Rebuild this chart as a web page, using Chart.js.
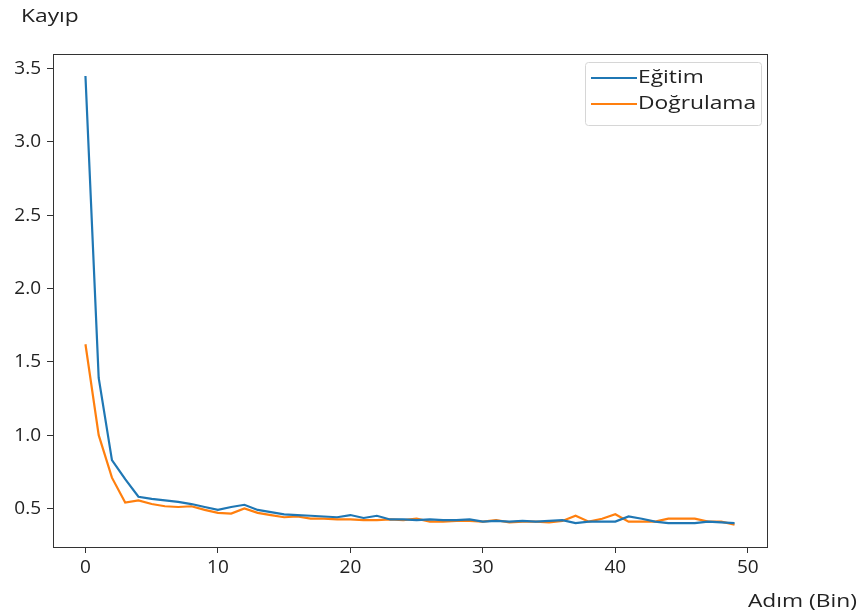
<!DOCTYPE html>
<html>
<head>
<meta charset="utf-8">
<script src="https://cdn.jsdelivr.net/npm/chart.js@4"></script>
<style>
  html, body { margin: 0; padding: 0; background: #fff; }
  #wrap { width: 862px; height: 615px; }
</style>
</head>
<body>
<div id="wrap"><canvas id="lossChart" width="862" height="615"></canvas></div>
<script>
// adım (bin)
var steps = [0,1,2,3,4,5,6,7,8,9,10,11,12,13,14,15,16,17,18,19,20,21,22,23,24,
             25,26,27,28,29,30,31,32,33,34,35,36,37,38,39,40,41,42,43,44,45,46,47,48,49];

var trainLoss = [3.45,1.39,0.83,0.70,0.58,0.565,0.555,0.545,0.53,0.51,
                 0.49,0.51,0.525,0.49,0.475,0.46,0.455,0.45,0.445,0.44,
                 0.455,0.435,0.45,0.425,0.425,0.42,0.425,0.42,0.42,0.425,
                 0.41,0.415,0.41,0.415,0.41,0.415,0.42,0.40,0.41,0.41,
                 0.41,0.445,0.43,0.41,0.40,0.40,0.40,0.41,0.405,0.40];

var valLoss = [1.62,1.00,0.71,0.54,0.555,0.53,0.515,0.51,0.515,0.49,
               0.47,0.465,0.50,0.47,0.455,0.44,0.445,0.43,0.43,0.425,
               0.425,0.42,0.42,0.425,0.42,0.43,0.41,0.41,0.415,0.415,
               0.41,0.42,0.405,0.41,0.41,0.405,0.415,0.45,0.41,0.43,
               0.46,0.41,0.41,0.41,0.43,0.43,0.43,0.41,0.41,0.39];

var seriesNames = ['Eğitim', 'Doğrulama'];
var xTicks = [0, 10, 20, 30, 40, 50];
var yTicks = [0.5, 1.0, 1.5, 2.0, 2.5, 3.0, 3.5];

var FONT = '"Open Sans", "DejaVu Sans", sans-serif';
var AXIS = '#333333';
var TEXT = '#222222';

function toPoints(ys) {
    return steps.map(function (s, i) { return { x: s, y: ys[i] }; });
}

// yazıyı yatayda biraz genişleterek çiz
function wideText(c, txt, x, y, align, sx) {
    c.save();
    c.translate(x, y);
    c.scale(sx, 1);
    c.textAlign = align;
    c.fillText(txt, 0, 0);
    c.restore();
}

// çerçeve, eksen adları ve lejant
var decorPlugin = {
    id: 'decor',
    afterDraw: function (chart) {
        var c = chart.ctx, a = chart.chartArea;
        c.save();
        c.strokeStyle = AXIS;
        c.lineWidth = 1;
        c.strokeRect(Math.round(a.left) + 0.5, Math.round(a.top) + 0.5,
                     Math.round(a.right - a.left), Math.round(a.bottom - a.top));

        c.fillStyle = TEXT;
        c.font = '19px ' + FONT;
        c.textBaseline = 'middle';
        wideText(c, 'Kayıp', 21, 17, 'left', 1.2);
        wideText(c, 'Adım (Bin)', 857, 602, 'right', 1.2);

        // lejant
        var bx = 585, by = 62, bw = 176, bh = 63;
        c.fillStyle = 'rgba(255,255,255,0.85)';
        c.strokeStyle = '#d6d6d6';
        c.beginPath();
        c.roundRect(bx + 0.5, by + 0.5, bw, bh, 3);
        c.fill();
        c.stroke();
        chart.data.datasets.forEach(function (ds, i) {
            var y = by + 16 + i * 26;
            c.strokeStyle = ds.borderColor;
            c.lineWidth = 2;
            c.beginPath();
            c.moveTo(bx + 6, y);
            c.lineTo(bx + 52, y);
            c.stroke();
            c.fillStyle = TEXT;
            wideText(c, ds.label, bx + 53, y, 'left', 1.2);
        });
        c.restore();
    }
};

new Chart(document.getElementById('lossChart').getContext('2d'), {
    type: 'line',
    data: {
        datasets: [{
            label: seriesNames[0],
            data: toPoints(trainLoss),
            borderColor: '#1f77b4',
            borderWidth: 2.2,
            pointRadius: 0,
            tension: 0,
            fill: false
        }, {
            label: seriesNames[1],
            data: toPoints(valLoss),
            borderColor: '#ff7f0e',
            borderWidth: 2.2,
            pointRadius: 0,
            tension: 0,
            fill: false
        }]
    },
    options: {
        responsive: false,
        animation: false,
        layout: { padding: { top: 54, right: 95, left: 0, bottom: 0 } },
        plugins: {
            legend: { display: false },
            tooltip: { enabled: false }
        },
        scales: {
            x: {
                type: 'linear',
                min: -2.45,
                max: 51.45,
                afterBuildTicks: function (s) { s.ticks = xTicks.map(function (v) { return { value: v }; }); },
                afterFit: function (s) { s.height = 68; },
                grid: { display: true, drawOnChartArea: false, drawTicks: true, tickLength: 6, color: AXIS },
                border: { display: false },
                ticks: {
                    color: TEXT,
                    padding: 3,
                    maxRotation: 0,
                    font: { family: FONT, size: 19 },
                    callback: function (v) { return String(v); }
                }
            },
            y: {
                type: 'linear',
                min: 0.237,
                max: 3.60,
                afterBuildTicks: function (s) { s.ticks = yTicks.map(function (v) { return { value: v }; }); },
                afterFit: function (s) { s.width = 53; },
                grid: { display: true, drawOnChartArea: false, drawTicks: true, tickLength: 6, color: AXIS },
                border: { display: false },
                ticks: {
                    color: TEXT,
                    padding: 6,
                    font: { family: FONT, size: 19 },
                    callback: function (v) { return v.toFixed(1); }
                }
            }
        }
    },
    plugins: [decorPlugin]
});
</script>
</body>
</html>
